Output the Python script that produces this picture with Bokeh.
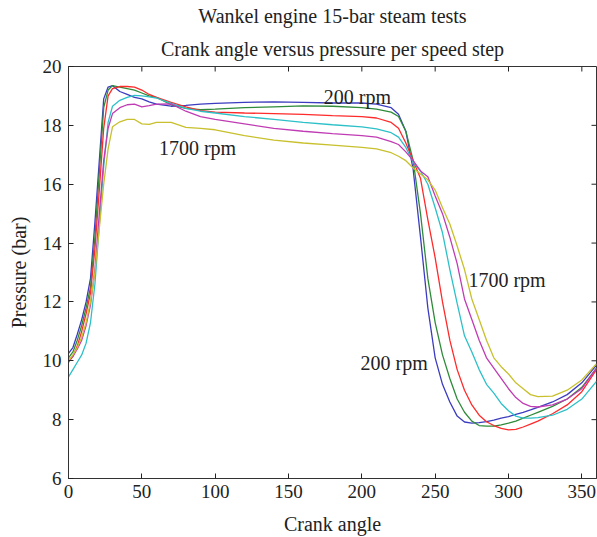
import math
from bokeh.plotting import figure
from bokeh.models import Range1d, Title, FixedTicker, Label
from bokeh.embed import file_html
from bokeh.resources import INLINE

crank_angle = [0, 3, 6, 9, 12, 15, 18, 21, 24, 27, 30, 35, 40, 45, 50, 55, 60, 70, 80, 90,
               100, 120, 140, 160, 180, 200, 210, 220, 225, 230, 235, 240, 245, 250, 255,
               260, 265, 270, 275, 280, 285, 290, 295, 300, 305, 310, 315, 320, 330, 340, 350, 360]

p_200 = [10.25, 10.45, 10.9, 11.4, 12.0, 12.8, 14.7, 16.8, 18.9, 19.3, 19.35, 19.15, 19.05, 18.95, 18.9, 18.8, 18.72, 18.65, 18.68, 18.72,
         18.75, 18.78, 18.8, 18.78, 18.76, 18.76, 18.72, 18.6, 18.38, 17.8, 16.5, 14.2, 11.8, 10.1, 9.2,
         8.6, 8.12, 7.92, 7.88, 7.9, 7.93, 7.98, 8.05, 8.1, 8.18, 8.25, 8.33, 8.42, 8.6, 8.85, 9.25, 9.85]
p_500 = [10.1, 10.3, 10.7, 11.2, 11.8, 12.5, 14.2, 16.4, 18.6, 19.2, 19.35, 19.3, 19.25, 19.2, 19.1, 19.0, 18.95, 18.7, 18.58, 18.53,
         18.55, 18.6, 18.63, 18.66, 18.65, 18.6, 18.55, 18.45, 18.3, 17.8, 16.8, 15.0, 12.8, 11.3, 10.2,
         9.4, 8.7, 8.25, 7.95, 7.8, 7.78, 7.78, 7.82, 7.88, 7.95, 8.05, 8.15, 8.25, 8.45, 8.7, 9.1, 9.75]
p_800 = [9.95, 10.15, 10.5, 11.0, 11.6, 12.3, 13.8, 15.8, 17.9, 19.0, 19.25, 19.32, 19.32, 19.3, 19.2, 19.05, 18.95, 18.78, 18.63, 18.5,
         18.45, 18.42, 18.4, 18.37, 18.33, 18.3, 18.25, 18.1, 17.9, 17.4, 16.8, 16.2, 14.8, 13.5, 12.0,
         10.7, 9.7, 9.0, 8.5, 8.15, 7.93, 7.8, 7.7, 7.65, 7.67, 7.75, 7.85, 7.95, 8.2, 8.5, 8.95, 9.7]
p_1100 = [9.45, 9.7, 9.95, 10.2, 10.6, 11.3, 12.6, 14.6, 16.6, 18.1, 18.65, 18.85, 18.95, 19.02, 19.0, 18.97, 18.93, 18.75, 18.58, 18.48,
          18.42, 18.3, 18.2, 18.1, 18.02, 17.95, 17.88, 17.75, 17.6, 17.25, 16.75, 16.45, 16.0, 15.2, 14.35,
          13.1, 11.95, 10.85, 10.3, 9.7, 9.2, 8.9, 8.55, 8.3, 8.12, 8.05, 8.05, 8.07, 8.15, 8.35, 8.7, 9.3]
p_1400 = [10.0, 10.15, 10.4, 10.7, 11.2, 11.9, 13.1, 15.0, 16.8, 17.9, 18.4, 18.6, 18.7, 18.72, 18.63, 18.67, 18.72, 18.73, 18.48, 18.3,
          18.2, 18.05, 17.9, 17.8, 17.72, 17.65, 17.6, 17.45, 17.35, 17.1, 16.8, 16.45, 16.25, 15.6, 15.0,
          14.2, 13.3, 12.1, 11.4, 10.7, 10.1, 9.75, 9.4, 9.05, 8.75, 8.55, 8.45, 8.43, 8.5, 8.7, 9.05, 9.75]
p_1700 = [10.0, 10.2, 10.45, 10.8, 11.3, 12.0, 13.0, 14.5, 16.0, 17.2, 17.95, 18.12, 18.2, 18.2, 18.05, 18.03, 18.1, 18.1, 17.93, 17.9,
          17.85, 17.65, 17.5, 17.4, 17.33, 17.25, 17.2, 17.07, 16.95, 16.8, 16.55, 16.35, 16.15, 15.8, 15.2,
          14.65, 13.9, 13.1, 12.1, 11.4, 10.7, 10.1, 9.8, 9.55, 9.25, 9.05, 8.85, 8.78, 8.8, 9.0, 9.35, 9.9]

series = [p_200, p_500, p_800, p_1100, p_1400, p_1700]
colors = ["#3c3cc0", "#2e8b3a", "#ff2a2a", "#2cc0c8", "#c03cb4", "#c8c02c"]

x_ticks = [0, 50, 100, 150, 200, 250, 300, 350]
y_ticks = [6, 8, 10, 12, 14, 16, 18, 20]
x_max = 360
y_max = 20

annotations = [("200 rpm", 197, 18.98), ("1700 rpm", 88, 17.23),
               ("1700 rpm", 299, 12.76), ("200 rpm", 222, 9.93)]

FONT = "Liberation Serif"
TXT = "#222222"

p = figure(width=597, height=537, output_backend="svg", toolbar_location=None,
           x_range=Range1d(0, x_max), y_range=Range1d(6, y_max),
           min_border_left=68, min_border_right=1, min_border_bottom=0, min_border_top=0)

for ys, c in zip(series, colors):
    p.line(crank_angle, ys, line_color=c, line_width=1.3)

for txt, x, y in annotations:
    p.add_layout(Label(x=x, y=y, text=txt, text_font=FONT, text_font_size="20px",
                       text_color=TXT, text_align="center", text_baseline="middle"))

# inward ticks mirrored on top and right (box style)
p.ray(x=x_ticks, y=[y_max] * len(x_ticks), length=5, length_units="screen",
      angle=-math.pi / 2, line_color="#222222", line_width=1)
p.ray(x=[x_max] * len(y_ticks), y=y_ticks, length=5, length_units="screen",
      angle=math.pi, line_color="#222222", line_width=1)

p.grid.visible = False
p.outline_line_color = "#333333"
p.outline_line_width = 1
p.background_fill_color = "white"
p.border_fill_color = "white"

for ax in p.xaxis + p.yaxis:
    ax.major_tick_in = 5
    ax.major_tick_out = 0
    ax.minor_tick_line_color = None
    ax.axis_line_color = "#333333"
    ax.major_tick_line_color = "#222222"
    ax.major_label_text_font = FONT
    ax.major_label_text_font_size = "19px"
    ax.major_label_text_color = TXT
    ax.axis_label_text_font = FONT
    ax.axis_label_text_font_size = "20px"
    ax.axis_label_text_font_style = "normal"
    ax.axis_label_text_color = TXT

p.xaxis.ticker = FixedTicker(ticks=x_ticks)
p.yaxis.ticker = FixedTicker(ticks=y_ticks)
p.xaxis.axis_label = "Crank angle"
p.yaxis.axis_label = "Pressure (bar)"
p.xaxis.major_label_standoff = 6
p.yaxis.major_label_standoff = 7
p.xaxis.axis_label_standoff = 12
p.yaxis.axis_label_standoff = 10

p.title = None
p.add_layout(Title(text="Crank angle versus pressure per speed step", align="center",
                   text_font=FONT, text_font_size="20px", text_font_style="normal",
                   text_color=TXT, standoff=13), "above")
p.add_layout(Title(text="Wankel engine 15-bar steam tests", align="center",
                   text_font=FONT, text_font_size="20px", text_font_style="normal",
                   text_color=TXT, standoff=5), "above")

open("out.html", "w").write(file_html(p, INLINE))
